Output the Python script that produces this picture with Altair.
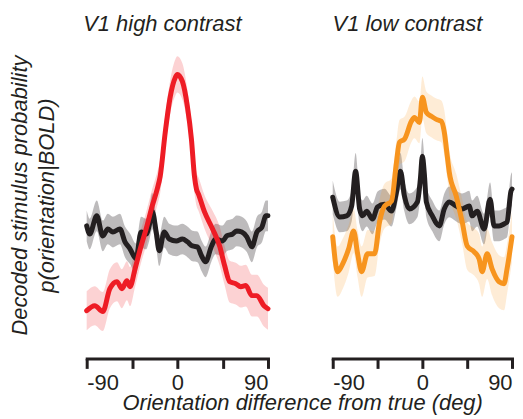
import altair as alt
import pandas as pd

FONT = "Liberation Sans"
INK = "#231F20"
RED = "#EE1C25"
ORANGE = "#F7941E"

# ---- V1 high contrast ----
red_deg = [-90, -82, -74, -67, -60, -55, -50, -47, -42, -36,
           -31, -25, -20, -17, -12, -7, -2, 0, 5, 10,
           14, 17, 19, 21, 27, 35, 42, 47, 52, 58,
           63, 68, 74, 79, 86, 90]
red_val = [16.4, 18.2, 16.1, 24.3, 26.8, 24.3, 27.1, 25.0, 31.4, 39.6,
           45.7, 53.9, 60.0, 64.6, 80.4, 93.2, 100.0, 101.1, 98.6, 89.6,
           77.9, 64.6, 60.0, 58.2, 51.8, 45.7, 39.6, 32.5, 26.8, 26.1,
           25.0, 25.4, 21.8, 21.8, 18.2, 17.1]
red_err = [7, 7, 7, 7, 7, 7, 7, 7, 6.5, 6,
           6, 6, 6, 6, 6, 6, 6.5, 6.5, 6.5, 6,
           6, 6, 6, 6, 6, 6.5, 7, 7, 7.5, 7.5,
           7.5, 7.5, 7.5, 7.5, 7.5, 7.5]

hi_blk_deg = [-90, -87, -80, -74, -69, -64, -57, -52, -47, -41,
              -36, -31, -28, -25, -21, -18, -13, -8, -1, 5,
              10, 15, 20, 24, 28, 34, 38, 45, 49, 55,
              59, 64, 69, 74, 79, 84, 88, 90]
hi_blk_val = [46.8, 43.9, 50.4, 43.2, 45.7, 44.6, 45.7, 41.1, 38.6, 35.0,
              44.6, 43.9, 46.8, 52.1, 44.6, 37.9, 44.6, 42.1, 41.4, 42.1,
              41.1, 39.6, 39.3, 36.1, 33.9, 39.6, 42.1, 41.4, 43.2, 43.9,
              45.0, 44.6, 42.9, 39.3, 44.6, 46.4, 50.4, 50.4]
hi_blk_err = [5.5] * 13 + [6.5] + [5.5] * 24

# ---- V1 low contrast ----
org_deg = [-90, -85, -80, -74, -69, -65, -61, -55, -48, -43,
           -38, -31, -26, -23, -18, -11, -8, -3, 0, 4,
           9, 14, 19, 22, 25, 27, 34, 40, 45, 52,
           57, 60, 65, 70, 77, 82, 85, 90]
org_val = [42.9, 30.4, 33.2, 38.6, 45.0, 36.8, 30.4, 36.8, 36.8, 48.2,
           53.9, 55.7, 69.6, 76.8, 77.9, 84.3, 85.7, 83.9, 92.9, 87.5,
           86.1, 85.0, 84.3, 80.4, 71.8, 66.1, 57.5, 48.2, 39.6, 37.5,
           35.0, 30.4, 36.8, 31.4, 26.8, 26.1, 31.4, 42.9]
org_err = [8.5, 9, 9, 8.5, 8, 8.5, 9, 8.5, 8, 8,
           8, 8, 8, 8, 8, 7.5, 7.5, 7.5, 7.5, 7.5,
           7.5, 7.5, 7.5, 8, 8, 8, 8, 8, 8.5, 8.5,
           9, 9, 9, 9.5, 9.5, 9.5, 9, 9]

lo_blk_deg = [-90, -83, -76, -71, -67, -63, -60, -56, -50, -45,
              -38, -31, -26, -22, -18, -13, -5, -2, 0, 2,
              4, 10, 17, 22, 27, 34, 40, 47, 50, 55,
              62, 68, 72, 77, 82, 85, 89, 90]
lo_blk_val = [57.1, 50.0, 50.4, 53.9, 66.4, 52.9, 50.4, 52.1, 49.3, 53.6,
              54.6, 52.1, 58.9, 66.4, 57.5, 52.9, 55.4, 63.6, 71.8, 65.4,
              55.4, 50.4, 46.8, 52.9, 55.4, 53.9, 52.9, 53.9, 50.4, 52.1,
              45.7, 56.4, 46.8, 46.8, 47.5, 48.2, 59.3, 60.0]
lo_blk_err = [6, 5.5, 5.5, 5.5, 6.5, 5.5, 5.5, 5.5, 5.5, 5.5,
              5.5, 5.5, 5.5, 6.5, 5.5, 5.5, 5.5, 6, 6.5, 6,
              5.5, 5.5, 5.5, 5.5, 5.5, 5.5, 5.5, 5.5, 5.5, 5.5,
              5.5, 6, 5.5, 5.5, 5.5, 5.5, 6, 6]

titles = ["V1 high contrast", "V1 low contrast"]
y_title = ["Decoded stimulus probability", "p(orientation|BOLD)"]
x_title = "Orientation difference from true (deg)"
x_ticks = [-90, -45, 0, 45, 90]


def frame(deg, val, err):
    return pd.DataFrame({
        "deg": deg,
        "p": val,
        "lo": [v - e for v, e in zip(val, err)],
        "hi": [v + e for v, e in zip(val, err)],
    })


def x_enc():
    return alt.X(
        "deg:Q",
        scale=alt.Scale(domain=[-90, 90], nice=False, zero=False),
        axis=alt.Axis(
            values=x_ticks,
            labelExpr="abs(datum.value) % 90 == 0 ? '' + datum.value : ''",
            title=None, grid=False,
            domainColor=INK, domainWidth=3, domainCap="square",
            tickColor=INK, tickWidth=3, tickSize=10,
            labelFont=FONT, labelFontSize=22, labelColor=INK,
            labelBaseline="alphabetic", labelPadding=21, offset=2,
        ),
    )


def y_scale():
    return alt.Scale(domain=[0, 110], nice=False, zero=False)


def panel(series, title, show_y, width):
    bands, lines = [], []
    for df, color, band_op in series:
        y_axis = (alt.Axis(title=y_title, domain=False, ticks=False, labels=False,
                           grid=False, titleFont=FONT, titleFontSize=22,
                           titleFontStyle="italic", titleFontWeight="normal",
                           titleColor=INK, titleLineHeight=27, titlePadding=28,
                           titleY=146)
                  if show_y else None)
        base = alt.Chart(df)
        bands.append(base.mark_area(color=color, opacity=band_op,
                                    interpolate="monotone").encode(
            x=x_enc(),
            y=alt.Y("lo:Q", scale=y_scale(), axis=y_axis),
            y2="hi:Q"))
        lines.append(base.mark_line(color=color, strokeWidth=5,
                                    interpolate="monotone",
                                    strokeJoin="round", strokeCap="round").encode(
            x=x_enc(),
            y=alt.Y("p:Q", scale=y_scale(), axis=y_axis)))
    return alt.layer(*bands, *lines).properties(
        width=width, height=308,
        title=alt.TitleParams(title, font=FONT, fontSize=22, fontStyle="italic",
                              fontWeight="normal", color=INK, anchor="middle",
                              dx=-15, offset=14),
    )


left = panel([(frame(hi_blk_deg, hi_blk_val, hi_blk_err), INK, 0.3),
              (frame(red_deg, red_val, red_err), RED, 0.2)],
             titles[0], True, 182)
right = panel([(frame(lo_blk_deg, lo_blk_val, lo_blk_err), INK, 0.3),
               (frame(org_deg, org_val, org_err), ORANGE, 0.18)],
              titles[1], False, 180)

chart = alt.hconcat(left, right, spacing=59).properties(
    title=alt.TitleParams(x_title, orient="bottom", anchor="middle", font=FONT,
                          fontSize=22, fontStyle="italic", fontWeight="normal",
                          color=INK, offset=0, dx=41),
    padding={"left": 0, "top": 4, "right": 0, "bottom": 0},
).configure_view(stroke=None)

chart.save("out.html", embed_options={"renderer": "svg", "actions": False})
